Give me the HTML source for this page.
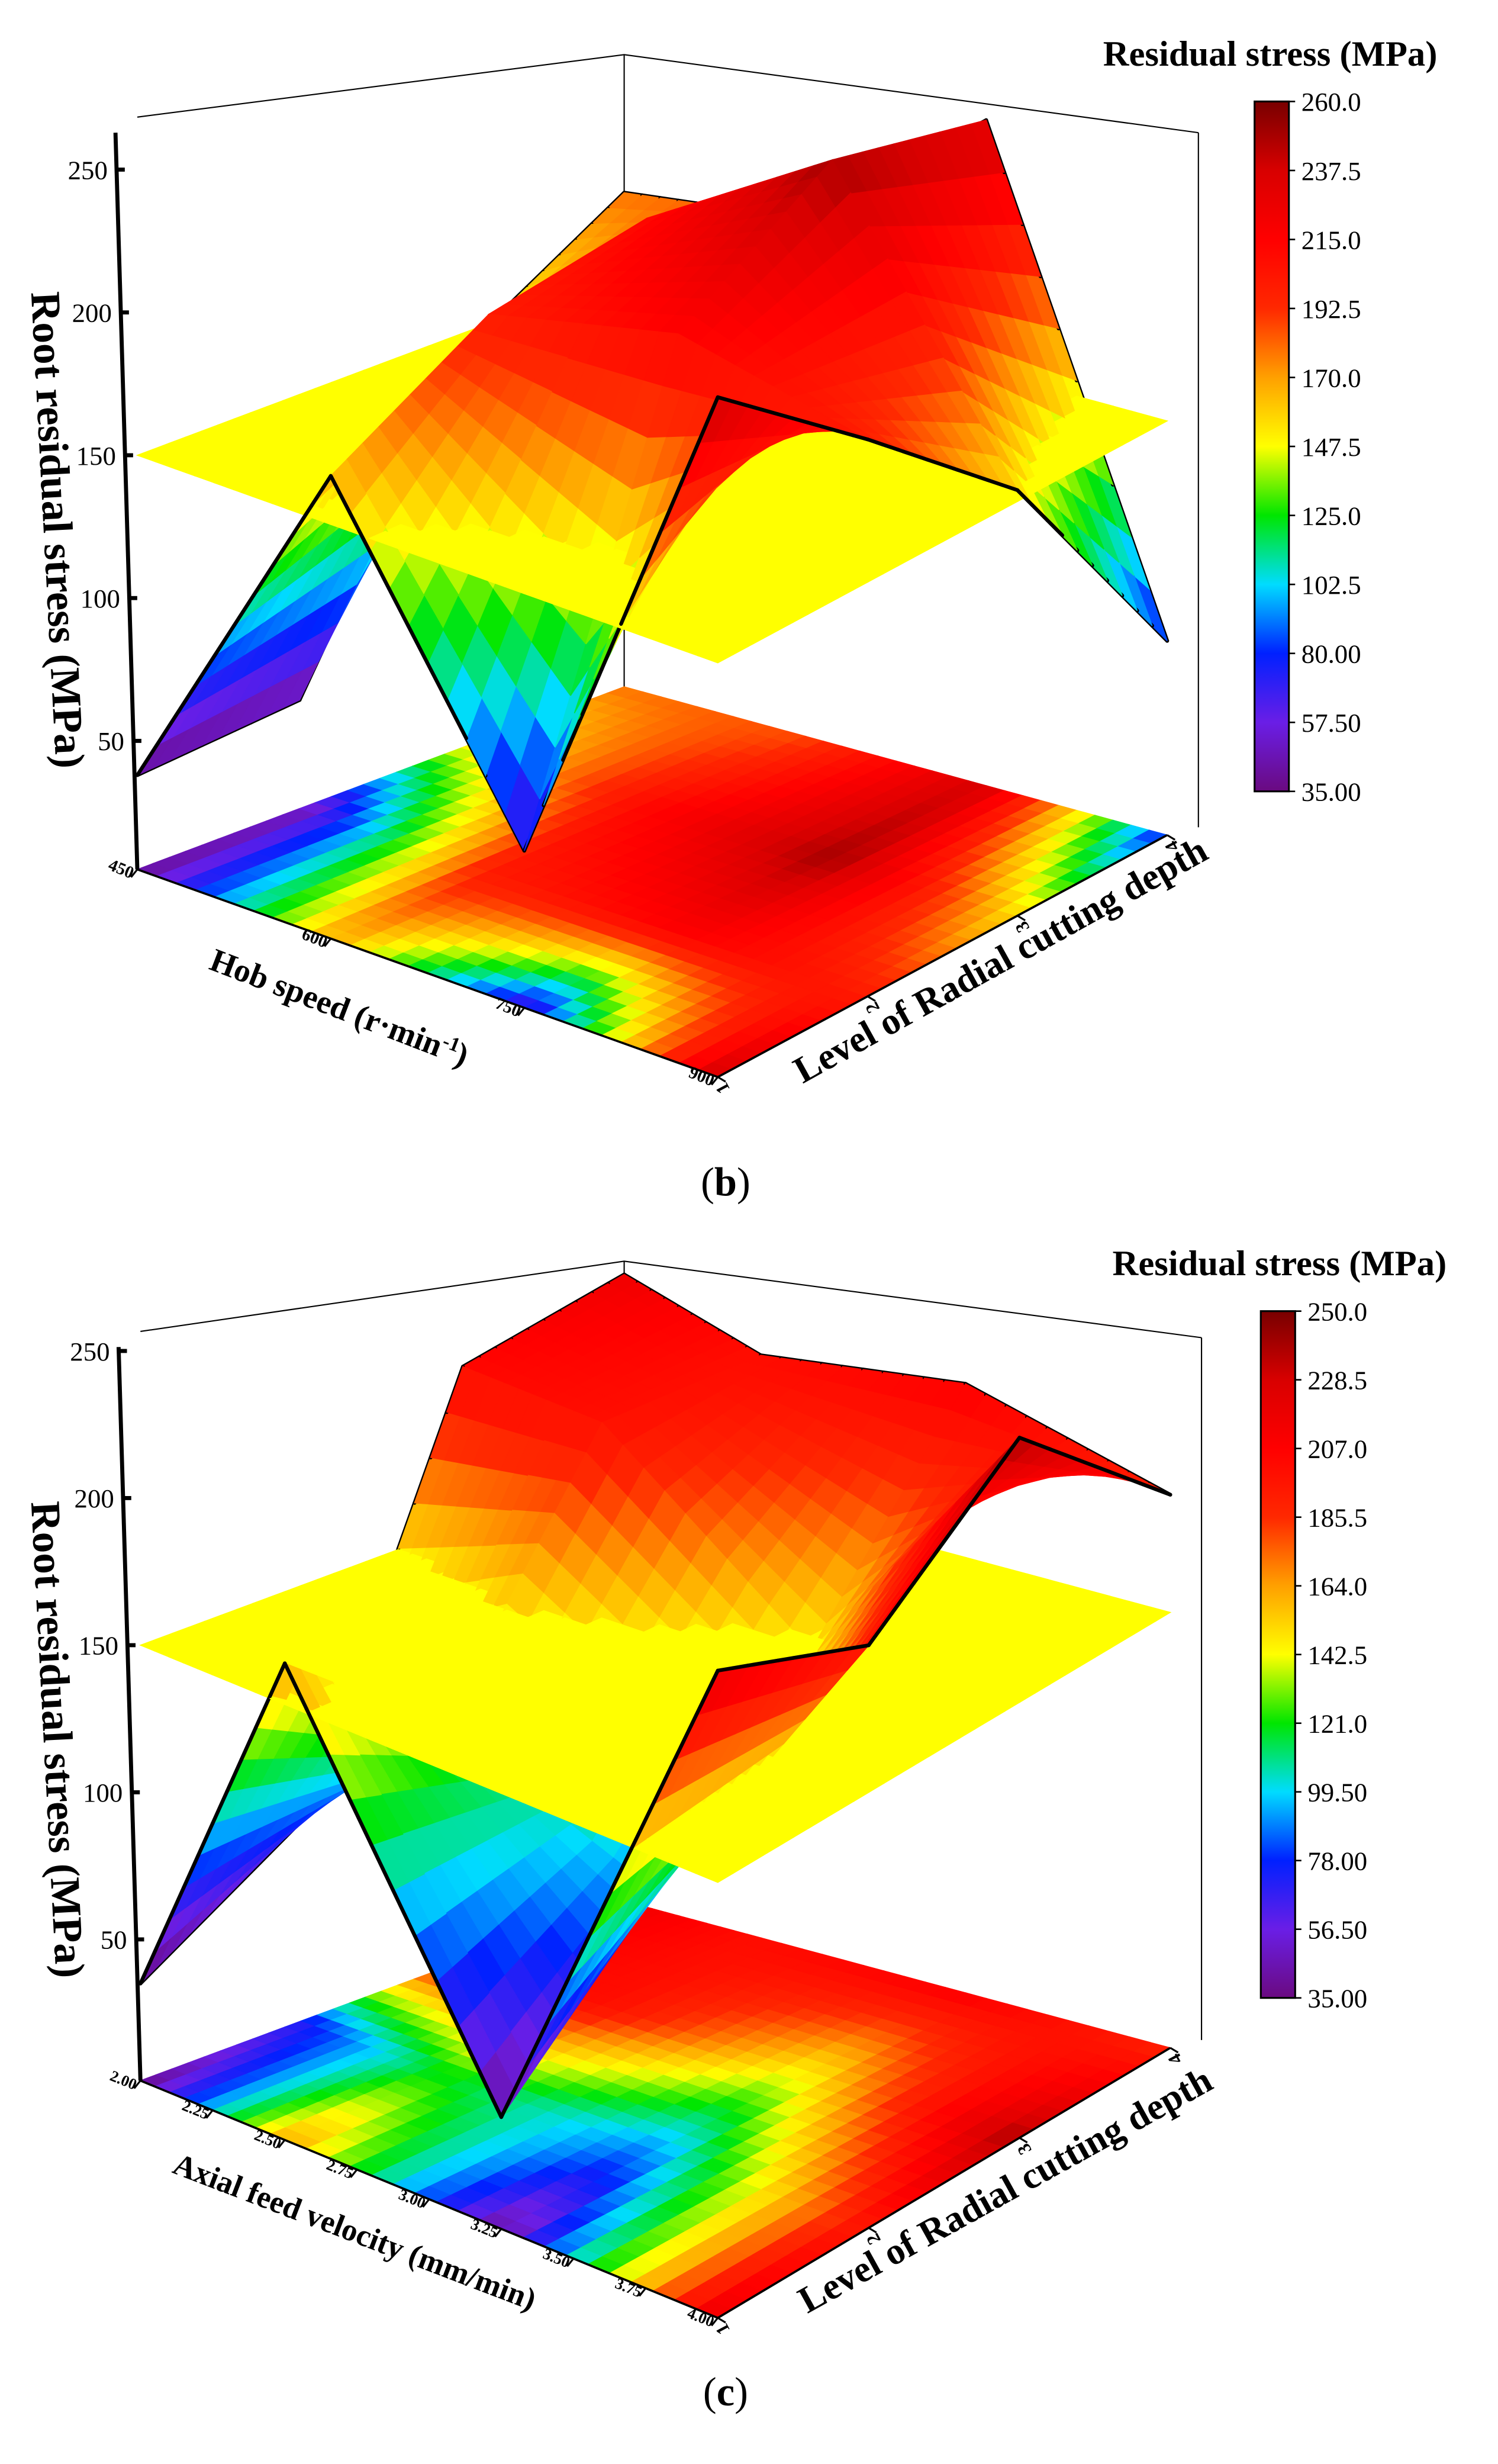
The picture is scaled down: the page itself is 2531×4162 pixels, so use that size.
<!DOCTYPE html>
<html><head><meta charset="utf-8"><style>
html,body{margin:0;padding:0;background:#fff}
svg{display:block}
text{font-family:"Liberation Serif",serif}
</style></head><body>
<svg id="fig" width="2531" height="4162" viewBox="0 0 960 1578.6" xmlns="http://www.w3.org/2000/svg">
<defs>
<linearGradient id="cbgrad" x1="0" y1="1" x2="0" y2="0">
<stop offset="0" stop-color="#6a0a80"/><stop offset="0.1" stop-color="#6a1ee6"/><stop offset="0.2" stop-color="#0020ff"/><stop offset="0.3" stop-color="#00dcff"/><stop offset="0.4" stop-color="#00e600"/><stop offset="0.5" stop-color="#ffff00"/><stop offset="0.6" stop-color="#ffa000"/><stop offset="0.7" stop-color="#ff2800"/><stop offset="0.8" stop-color="#ff0000"/><stop offset="0.9" stop-color="#d80000"/><stop offset="1" stop-color="#780000"/>
</linearGradient>
</defs>
<g id="chartB"></g>
<g id="chartC"></g>
<text x="465" y="766" font-size="26" text-anchor="middle">(<tspan font-weight="bold">b</tspan>)</text>
<text x="465" y="1541" font-size="26" text-anchor="middle">(<tspan font-weight="bold">c</tspan>)</text>
</svg>
<script>
// ---- chart (b) data ----
const bHob = [450, 600, 750, 900];
const bLevels = [1, 2, 3, 4];
const bZ = [
  [38, 167, 60, 243],
  [43, 200, 215, 200],
  [144, 210, 250, 154],
  [178, 186, 238, 73]
];
const bZTicks = [50, 100, 150, 200, 250];
const bHobTicks = ["450", "600", "750", "900"];
const bCbLabels = ["35.00","57.50","80.00","102.5","125.0","147.5","170.0","192.5","215.0","237.5","260.0"];
// ---- chart (c) data ----
const cFeed = [2.0, 2.5, 3.25, 4.0];
const cLevels = [1, 2, 3, 4];
const cZ = [
  [35, 164, 40, 222],
  [70, 120, 90, 200],
  [204, 200, 145, 240],
  [215, 200, 209, 190]
];
const cZTicks = [50, 100, 150, 200, 250];
const cFeedTicks = ["2.00","2.25","2.50","2.75","3.00","3.25","3.50","3.75","4.00"];
const cCbLabels = ["35.00","56.50","78.00","99.50","121.0","142.5","164.0","185.5","207.0","228.5","250.0"];
const planeLevel = 150;

const NS = "http://www.w3.org/2000/svg";
const stops = ["#6a0a80","#6a1ee6","#0020ff","#00dcff","#00e600","#ffff00","#ffa000","#ff2800","#ff0000","#d80000","#780000"];
function hex(c){return [parseInt(c.substr(1,2),16),parseInt(c.substr(3,2),16),parseInt(c.substr(5,2),16)];}
function cmap(t){t=Math.max(0,Math.min(1,t));const f=t*10,i=Math.min(9,Math.floor(f)),r=f-i;const a=hex(stops[i]),b=hex(stops[i+1]);
 return "rgb("+a.map((v,k)=>Math.round(v+(b[k]-v)*r)).join(",")+")";}
function mk(parent,tag,attrs){const e=document.createElementNS(NS,tag);for(const k in attrs)e.setAttribute(k,attrs[k]);parent.appendChild(e);return e;}

function drawChart(g,cfg){
  const X=cfg.xs, L=cfg.levels, Z=cfg.z;
  const xmin=X[0],xmax=X[X.length-1],lmin=L[0],lmax=L[L.length-1];
  const C=cfg.corners;
  function base(u,v){
    const x=(1-u)*(1-v)*C[0][0]+(1-u)*v*C[1][0]+u*v*C[2][0]+u*(1-v)*C[3][0];
    const y=(1-u)*(1-v)*C[0][1]+(1-u)*v*C[1][1]+u*v*C[2][1]+u*(1-v)*C[3][1];
    return [x,y];}
  function P(u,v,z){const b=base(u,v);return [b[0],b[1]-(z-cfg.zf)*cfg.zs];}
  const ux=x=>(x-xmin)/(xmax-xmin), vl=l=>(l-lmin)/(lmax-lmin);
  const col=z=>cmap((z-cfg.cmin)/(cfg.cmax-cfg.cmin));
  const pts=a=>a.map(p=>p[0].toFixed(2)+","+p[1].toFixed(2)).join(" ");
  // box lines
  const box=mk(g,"g",{stroke:"#000",fill:"none"});
  
  
  const bt=cfg.boxTop;
  const c0=[C[0][0],bt[0]],c1=[C[1][0],bt[1]],c2=[C[2][0]+20,bt[2]];
  mk(box,"line",{x1:C[1][0],y1:C[1][1],x2:C[1][0],y2:c1[1],"stroke-width":0.8});
  mk(box,"line",{x1:C[2][0]+20,y1:C[2][1]-5,x2:c2[0],y2:c2[1],"stroke-width":0.8});
  mk(box,"polyline",{points:pts([c0,c1,c2]),"stroke-width":0.8});
  const N=10, floorItems=[], items=[];
  function zAt(s,t){
    const i=Math.min(X.length-2,Math.floor(s)), j=Math.min(L.length-2,Math.floor(t));
    const a=s-i,b=t-j;
    return (1-a)*(1-b)*Z[j][i]+a*(1-b)*Z[j][i+1]+(1-a)*b*Z[j+1][i]+a*b*Z[j+1][i+1];}
  const nx=X.length-1, nl=L.length-1, K=0.0035;
  const xv=s=>{const i=Math.min(nx-1,Math.floor(s));return ux(X[i]+(X[i+1]-X[i])*(s-i));};
  const lv=t=>vl(L[0]+(L[nl]-L[0])*t/nl);
  for(let j=0;j<nl;j++)for(let i=0;i<nx;i++)for(let q=0;q<N;q++)for(let p=0;p<N;p++){
    const s0=i+p/N,s1=i+(p+1)/N,t0=j+q/N,t1=j+(q+1)/N;
    const cs=[[s0,t0],[s1,t0],[s1,t1],[s0,t1]];
    const zs=cs.map(c=>zAt(c[0],c[1]));
    const zm=(zs[0]+zs[1]+zs[2]+zs[3])/4;
    const uvs=cs.map(c=>[xv(c[0]),lv(c[1])]);
    const um=(uvs[0][0]+uvs[2][0])/2, vm=(uvs[0][1]+uvs[2][1])/2;
    floorItems.push({pts:uvs.map(uv=>P(uv[0],uv[1],cfg.zf)),fill:col(zm)});
    items.push({k:um-vm+zm*K,pts:uvs.map((uv,n)=>P(uv[0],uv[1],zs[n])),fill:col(zm),type:"s"});
    items.push({k:um-vm+planeLevel*K,pts:uvs.map(uv=>P(uv[0],uv[1],planeLevel)),fill:"#ffff00",type:"p"});
    const edge=(a,b)=>items.push({k:(uvs[a][0]+uvs[b][0])/2-(uvs[a][1]+uvs[b][1])/2+(zs[a]+zs[b])/2*K+0.004,type:"e",pts:[P(uvs[a][0],uvs[a][1],zs[a]),P(uvs[b][0],uvs[b][1],zs[b])]});
    if(j===0&&q===0)edge(0,1);
    if(j===nl-1&&q===N-1)edge(3,2);
    if(i===0&&p===0)edge(0,3);
    if(i===nx-1&&p===N-1)edge(1,2);
  }
  const fl=mk(g,"g",{});
  
  
  floorItems.forEach(it=>mk(fl,"polygon",{points:pts(it.pts),fill:it.fill,stroke:it.fill,"stroke-width":0.6}));
  items.sort((a,b)=>a.k-b.k);
  const sf=mk(g,"g",{});
  
  
  items.forEach(it=>{
    if(it.type==="e"){const e=mk(sf,"line",{x1:it.pts[0][0],y1:it.pts[0][1],x2:it.pts[1][0],y2:it.pts[1][1],stroke:"#000","stroke-width":2.4,"stroke-linecap":"round"});
      
      }
    else{const e=mk(sf,"polygon",{points:pts(it.pts),fill:it.fill,stroke:it.fill,"stroke-width":0.6});
      
      }
  });
  // z axis
  const ax=mk(g,"g",{});
  
  
  const zb=P(0,0,cfg.zf);
  const topZ=(zb[1]-bt[0])/cfg.zs+cfg.zf;
  mk(ax,"line",{x1:zb[0],y1:zb[1],x2:zb[0]-14,y2:bt[0]+10,stroke:"#000","stroke-width":2.6});
  cfg.zticks.forEach(v=>{const p=P(0,0,v);const dx=-14*(v-cfg.zf)/(topZ-cfg.zf);
    mk(ax,"line",{x1:p[0]+dx,y1:p[1],x2:p[0]+dx+5,y2:p[1],stroke:"#000","stroke-width":2.6});
    const t=mk(ax,"text",{x:p[0]+dx-6,y:p[1]+6,"font-size":17,"text-anchor":"end"});t.textContent=v;
    
    });
  const zt2=mk(g,"text",{x:0,y:0,"font-size":27,"font-weight":"bold","text-anchor":"middle",transform:`translate(${cfg.ztitle[0]},${cfg.ztitle[1]}) rotate(87)`});
  zt2.textContent="Root residual stress (MPa)";
  
  
  mk(g,"polyline",{points:pts([C[0],C[3],C[2]]),stroke:"#000","stroke-width":1.4,fill:"none"});
  const n=cfg.xticks.length;
  cfg.xticks.forEach((lab,k)=>{const b=base(k/(n-1),0);
    mk(g,"line",{x1:b[0],y1:b[1],x2:b[0]-4,y2:b[1]+5,stroke:"#000","stroke-width":1.2});
    const t=mk(g,"text",{x:0,y:0,"font-size":cfg.xtfs,"font-weight":"bold","text-anchor":"end",transform:`translate(${b[0]-4},${b[1]+6}) rotate(22)`});
    t.textContent=lab;
    
    });
  const xt=mk(g,"text",{x:0,y:0,"font-size":cfg.xfs,"font-weight":"bold","text-anchor":"middle",transform:`translate(${cfg.xtitle[0]},${cfg.xtitle[1]}) rotate(21)`});
  xt.innerHTML=cfg.xtitleText;
  
  
  L.forEach((lv,k)=>{const b=base(1,k/(L.length-1));
    mk(g,"line",{x1:b[0],y1:b[1],x2:b[0]+5,y2:b[1]+3,stroke:"#000","stroke-width":1.2});
    const t=mk(g,"text",{x:0,y:0,"font-size":12,"font-weight":"bold",transform:`translate(${b[0]+8},${b[1]+8}) rotate(-118)`});
    t.textContent=lv;
    
    });
  const yt=mk(g,"text",{x:0,y:0,"font-size":24,"font-weight":"bold","text-anchor":"middle",transform:`translate(${cfg.ytitle[0]},${cfg.ytitle[1]}) rotate(-29)`});
  yt.textContent="Level of Radial cutting depth";
  
  
  const cb=cfg.cb;
  const ct=mk(g,"text",{x:cb.tx,y:cb.ty,"font-size":23,"font-weight":"bold","text-anchor":"middle"});
  ct.textContent="Residual stress (MPa)";
  
  
  const r=mk(g,"rect",{x:cb.x,y:cb.y,width:cb.w,height:cb.h,fill:"url(#cbgrad)",stroke:"#000","stroke-width":1.2});
  
  
  cfg.cbLabels.forEach((lab,k)=>{const y=cb.y+cb.h-cb.h*k/(cfg.cbLabels.length-1);
    mk(g,"line",{x1:cb.x+cb.w,y1:y,x2:cb.x+cb.w+4,y2:y,stroke:"#000","stroke-width":1});
    const t=mk(g,"text",{x:cb.x+cb.w+8,y:y+6,"font-size":17});t.textContent=lab;
    
    });
}

drawChart(document.getElementById("chartB"),{
  xs:bHob,levels:bLevels,z:bZ,zticks:bZTicks,xticks:bHobTicks,cbLabels:bCbLabels,
  corners:[[88,557],[400,440],[748,535],[460,690]],zf:5,zs:1.83,boxTop:[75,35,85],cmin:35,cmax:260,
  ztitle:[28,340],xtitle:[215,652],xfs:21,xtfs:11,xtitleText:'Hob speed (r·min<tspan baseline-shift="super" font-size="13">-1</tspan>)',ytitle:[645,622],
  cb:{x:804,y:65,w:22,h:442,tx:814,ty:42}
});
drawChart(document.getElementById("chartC"),{
  xs:cFeed,levels:cLevels,z:cZ,zticks:cZTicks,xticks:cFeedTicks,cbLabels:cCbLabels,
  corners:[[90,1333],[400,1218],[750,1312],[460,1485]],zf:2,zs:1.885,boxTop:[853,808,857],cmin:35,cmax:250,
  ztitle:[28,1115],xtitle:[225,1436],xfs:20,xtfs:10,xtitleText:'Axial feed velocity (mm/min)',ytitle:[648,1410],
  cb:{x:808,y:840,w:22,h:440,tx:820,ty:817}
});
</script>
</body></html>
